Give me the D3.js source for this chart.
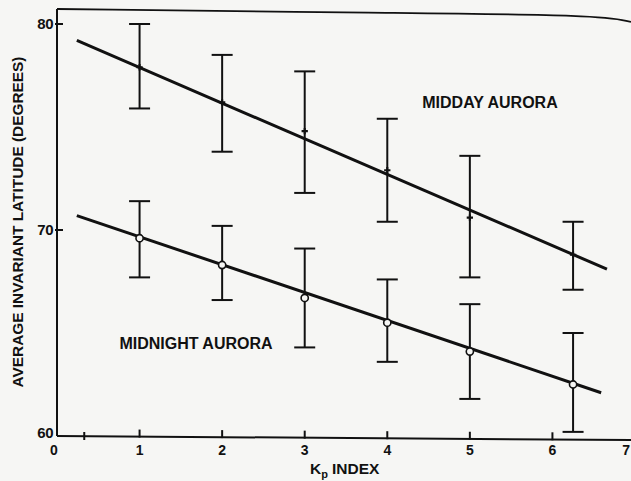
<!DOCTYPE html>
<html>
<head>
<meta charset="utf-8">
<script src="https://cdn.jsdelivr.net/npm/d3@7"></script>
<style>
  body { margin: 0; background: #f6f6f4; }
  svg { display: block; }
  text { font-family: Arial, "Liberation Sans", sans-serif; font-weight: bold; fill: #111; }
</style>
</head>
<body>
<svg id="canvas"></svg>
<script>
var w = 631;
var h = 481;

// Kp index of each group
var kpValues = [1, 2, 3, 4, 5, 6.25];
// midday aurora: mean latitude and error bar ends
var middayMean = [77.9, 76.2, 74.8, 72.9, 70.6, 68.8];
var middayHigh = [80.0, 78.5, 77.7, 75.4, 73.6, 70.4];
var middayLow = [75.9, 73.8, 71.8, 70.4, 67.7, 67.1];
// midnight aurora
var midnightMean = [69.6, 68.3, 66.7, 65.5, 64.1, 62.5];
var midnightHigh = [71.4, 70.2, 69.1, 67.6, 66.4, 65.0];
var midnightLow = [67.7, 66.6, 64.3, 63.6, 61.8, 60.2];
// regression lines (start and end)
var middayFit = [[0.24, 79.2], [6.66, 68.1]];
var midnightFit = [[0.24, 70.7], [6.59, 62.1]];

var xTicks = [0, 1, 2, 3, 4, 5, 6, 7];
var xMinorTicks = [0.33];
var yTicks = [60, 70, 80];

var x = d3.scaleLinear().domain([0, 7]).range([57, 635]);
var y = d3.scaleLinear().domain([60, 80]).range([436, 24]);
var frameTop = 9;

var svg = d3.select("#canvas")
  .attr("width", w)
  .attr("height", h)
  .attr("viewBox", [0, 0, w, h]);

var ink = "#111";

// frame: top line and axes
svg.append("path")
  .attr("d", d3.line().curve(d3.curveBasis)([[x(0), frameTop], [x(4), frameTop + 4], [x(6.6), frameTop + 6], [w, frameTop + 13]]))
  .style("fill", "none").style("stroke", ink).style("stroke-width", 1.8);

svg.append("line")
  .attr("x1", x(0)).attr("x2", x(0))
  .attr("y1", frameTop).attr("y2", y(60))
  .style("stroke", ink).style("stroke-width", 2);

svg.append("line")
  .attr("x1", x(0)).attr("x2", w)
  .attr("y1", y(60)).attr("y2", y(60) + 4)
  .style("stroke", ink).style("stroke-width", 2);

// y ticks and labels
svg.selectAll(".ytick")
  .data(yTicks.filter(d => d > 60))
  .enter().append("line")
  .attr("class", "ytick")
  .attr("x1", x(0) - 2).attr("x2", x(0) + 6)
  .attr("y1", d => y(d)).attr("y2", d => y(d))
  .style("stroke", ink).style("stroke-width", 2);

svg.selectAll(".ylab")
  .data(yTicks)
  .enter().append("text")
  .attr("class", "ylab")
  .attr("x", x(0) - 4)
  .attr("y", d => y(d) + (d == 60 ? -3 : 0))
  .attr("dy", "0.36em")
  .attr("text-anchor", "end")
  .style("font-size", "15px")
  .style("letter-spacing", "-0.5px")
  .text(d => d);

// x ticks and labels
svg.selectAll(".xtick")
  .data(xTicks.filter(d => d > 0 && d < 7))
  .enter().append("line")
  .attr("class", "xtick")
  .attr("x1", d => x(d)).attr("x2", d => x(d))
  .attr("y1", d => y(60) - 7 + d * 0.55).attr("y2", d => y(60) + 1 + d * 0.55)
  .style("stroke", ink).style("stroke-width", 2);

svg.selectAll(".xminor")
  .data(xMinorTicks)
  .enter().append("line")
  .attr("class", "xminor")
  .attr("x1", d => x(d)).attr("x2", d => x(d))
  .attr("y1", y(60) - 4).attr("y2", y(60) + 4)
  .style("stroke", ink).style("stroke-width", 2);

svg.selectAll(".xlab")
  .data(xTicks)
  .enter().append("text")
  .attr("class", "xlab")
  .attr("x", d => d == 7 ? w - 1 : x(d) - (d == 0 ? 3 : 0))
  .attr("y", 450)
  .attr("dy", "0.36em")
  .attr("text-anchor", d => d == 7 ? "end" : "middle")
  .style("font-size", "14px")
  .text(d => d);

// axis titles
var xt = svg.append("text")
  .attr("x", 310)
  .attr("y", 474)
  .style("font-size", "15.5px");
xt.append("tspan").text("K");
xt.append("tspan").attr("dy", 4).style("font-size", "11px").text("p");
xt.append("tspan").attr("dy", -4).attr("dx", 4).text("INDEX");

svg.append("text")
  .attr("transform", "translate(18," + 222 + ") rotate(-90)")
  .attr("text-anchor", "middle")
  .attr("dy", "0.36em")
  .attr("textLength", 331)
  .attr("lengthAdjust", "spacingAndGlyphs")
  .style("font-size", "15px")
  .text("AVERAGE INVARIANT LATITUDE (DEGREES)");

// regression lines
var line = d3.line().x(d => x(d[0])).y(d => y(d[1]));
[middayFit, midnightFit].forEach(function(fit) {
  svg.append("path")
    .attr("d", line(fit))
    .style("fill", "none").style("stroke", ink).style("stroke-width", 3);
});

function drawSeries(cls, means, highs, lows, open) {
  var rows = kpValues.map((k, i) => ({k: k, m: means[i], hi: highs[i], lo: lows[i]}));
  var g = svg.append("g").attr("class", cls);
  g.selectAll(".bar").data(rows).enter().append("line")
    .attr("x1", d => x(d.k)).attr("x2", d => x(d.k))
    .attr("y1", d => y(d.hi)).attr("y2", d => y(d.lo))
    .style("stroke", ink).style("stroke-width", 2);
  g.selectAll(".capHi").data(rows).enter().append("line")
    .attr("x1", d => x(d.k) - 10.5).attr("x2", d => x(d.k) + 10.5)
    .attr("y1", d => y(d.hi)).attr("y2", d => y(d.hi))
    .style("stroke", ink).style("stroke-width", 2);
  g.selectAll(".capLo").data(rows).enter().append("line")
    .attr("x1", d => x(d.k) - 10.5).attr("x2", d => x(d.k) + 10.5)
    .attr("y1", d => y(d.lo)).attr("y2", d => y(d.lo))
    .style("stroke", ink).style("stroke-width", 2);
  if (open) {
    g.selectAll(".pt").data(rows).enter().append("circle")
      .attr("cx", d => x(d.k)).attr("cy", d => y(d.m)).attr("r", 3.6)
      .style("fill", "#f6f6f4").style("stroke", ink).style("stroke-width", 1.6);
  } else {
    g.selectAll(".pt").data(rows).enter().append("path")
      .attr("transform", d => "translate(" + x(d.k) + "," + y(d.m) + ")")
      .attr("d", d3.symbol().type(d3.symbolCross).size(22))
      .style("fill", ink);
  }
}

drawSeries("midday", middayMean, middayHigh, middayLow, false);
drawSeries("midnight", midnightMean, midnightHigh, midnightLow, true);

// series labels
svg.append("text")
  .attr("x", 490).attr("y", 102).attr("dy", "0.36em")
  .attr("text-anchor", "middle")
  .style("font-size", "16px")
  .text("MIDDAY AURORA");

svg.append("text")
  .attr("x", 196).attr("y", 343).attr("dy", "0.36em")
  .attr("text-anchor", "middle")
  .style("font-size", "16px")
  .text("MIDNIGHT AURORA");
</script>
</body>
</html>
